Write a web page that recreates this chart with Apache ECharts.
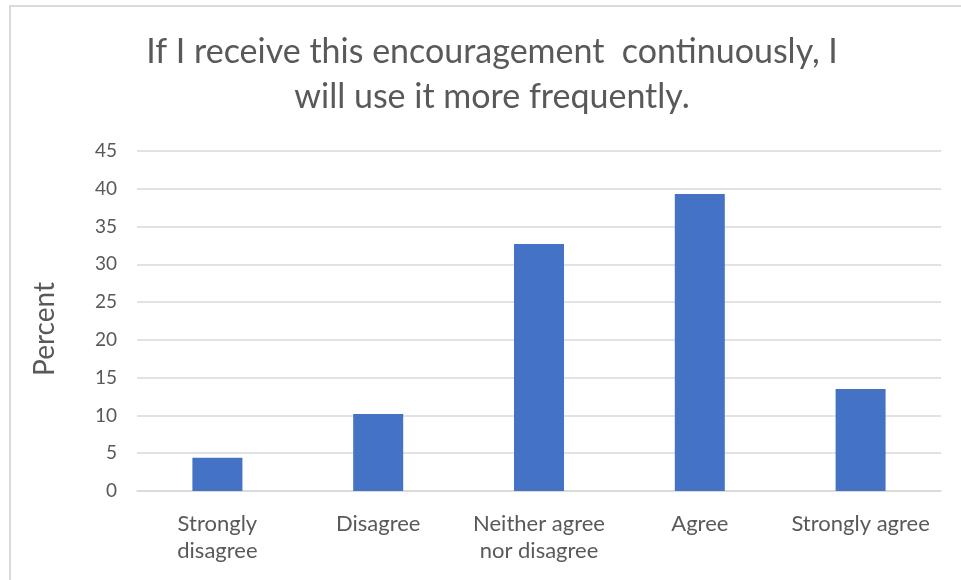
<!DOCTYPE html>
<html>
<head>
<meta charset="utf-8">
<script src="https://cdn.jsdelivr.net/npm/echarts@6/dist/echarts.min.js"></script>
<style>
  html, body { margin: 0; padding: 0; background: #fff; }
  #myChart { width: 961px; height: 580px; }
</style>
</head>
<body>
<div id="myChart"></div>
<script>
var titleText = 'If I receive this encouragement  continuously, I\nwill use it more frequently.';
var categories = ['Strongly\ndisagree', 'Disagree', 'Neither agree\nnor disagree', 'Agree', 'Strongly agree'];
var percents = [4.4, 10.2, 32.7, 39.3, 13.5];
var yTicks = { min: 0, max: 45, interval: 5 };

var FONT = 'Lato';
var GREY = '#595959';

function _initChart() {
    var myChart = echarts.init(document.getElementById('myChart'));
    var option = {
        animation: false,
        backgroundColor: '#fff',
        textStyle: { fontFamily: FONT },
        graphic: [
            {
                type: 'rect',
                shape: { x: 10, y: 6, width: 1000, height: 620 },
                style: { fill: 'none', stroke: '#d9d9d9', lineWidth: 2 },
                silent: true
            }
        ],
        title: {
            text: titleText,
            left: 487,
            top: 25,
            textAlign: 'center',
            textStyle: {
                fontFamily: FONT,
                fontSize: 34,
                fontWeight: 'normal',
                color: GREY,
                lineHeight: 45
            }
        },
        grid: { left: 137, right: 20, top: 151, bottom: 89 },
        xAxis: {
            type: 'category',
            data: categories,
            axisLine: { lineStyle: { color: '#d9d9d9', width: 1.5 } },
            axisTick: { show: false },
            axisLabel: {
                color: GREY,
                fontFamily: FONT,
                fontSize: 22,
                lineHeight: 27,
                margin: 19,
                interval: 0
            }
        },
        yAxis: {
            type: 'value',
            min: yTicks.min,
            max: yTicks.max,
            interval: yTicks.interval,
            name: 'Percent',
            nameLocation: 'middle',
            nameRotate: 90,
            nameGap: 78,
            nameTextStyle: { color: GREY, fontFamily: FONT, fontSize: 28, padding: [0, 16, 0, 0] },
            axisLine: { show: false },
            axisTick: { show: false },
            axisLabel: { color: GREY, fontFamily: FONT, fontSize: 19, margin: 20 },
            splitLine: { lineStyle: { color: '#d9d9d9', width: 1.5 } }
        },
        series: [
            {
                type: 'bar',
                data: percents,
                barWidth: 50,
                itemStyle: { color: '#4472c4' }
            }
        ]
    };
    myChart.setOption(option);
}

_initChart();
</script>
</body>
</html>
